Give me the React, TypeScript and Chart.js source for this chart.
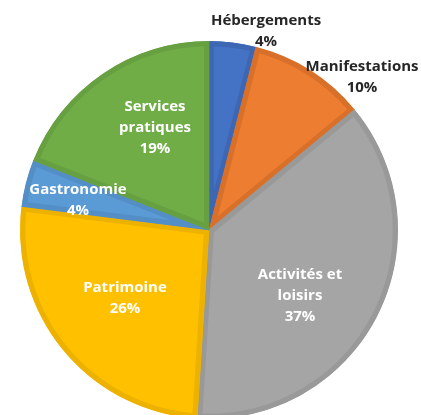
import React, { useEffect, useRef } from "react";
import { Chart, registerables } from "chart.js";

Chart.register(...registerables);

const categories = [
  ["Hébergements"],
  ["Manifestations"],
  ["Activités et", "loisirs"],
  ["Patrimoine"],
  ["Gastronomie"],
  ["Services", "pratiques"],
];
const values = [4, 10, 37, 26, 4, 19];
const fillColors = ["#4472C4", "#ED7D31", "#A5A5A5", "#FFC000", "#5B9BD5", "#70AD47"];
const borderColors = ["#3D67B3", "#D97029", "#999999", "#EDB200", "#538FC6", "#67A041"];
const labelInside = [false, false, true, true, true, true];
// label placement: fraction of radius, angle shift (deg) from slice middle
const labelRadius = [1.095, 1.145, 0.595, 0.572, 0.711, 0.611];
const labelShift = [8.8, 12.6, 9, 0.6, -1.5, 6.3];

const labelPlugin = {
  id: "sliceLabels",
  afterDatasetsDraw(chart: any) {
    const ctx = chart.ctx;
    const meta = chart.getDatasetMeta(0);
    const total = values.reduce((a, b) => a + b, 0);
    ctx.save();
    ctx.font = "bold 15px 'Open Sans'";
    ctx.textAlign = "center";
    ctx.textBaseline = "middle";
    meta.data.forEach((arc: any, i: number) => {
      const { x, y, startAngle, endAngle, outerRadius } = arc.getProps(
        ["x", "y", "startAngle", "endAngle", "outerRadius"],
        true
      );
      const mid = (startAngle + endAngle) / 2 + (labelShift[i] * Math.PI) / 180;
      const r = outerRadius * labelRadius[i];
      const cx = x + Math.cos(mid) * r;
      const cy = y + Math.sin(mid) * r;
      const lines = [...categories[i], Math.round((values[i] / total) * 100) + "%"];
      const lh = 21;
      const top = cy - ((lines.length - 1) * lh) / 2;
      ctx.fillStyle = labelInside[i] ? "#FFFFFF" : "#262626";
      lines.forEach((t, k) => ctx.fillText(t, cx, top + k * lh));
    });
    ctx.restore();
  },
};

export default function App() {
  const ref = useRef<HTMLCanvasElement | null>(null);
  useEffect(() => {
    const chart = new Chart(ref.current!, {
      type: "pie",
      data: {
        labels: categories.map((c) => c.join(" ")),
        datasets: [
          {
            data: values,
            backgroundColor: fillColors,
            borderColor: borderColors,
            borderWidth: 5,
            borderAlign: "inner",
            hoverOffset: 0,
            offset: 0,
          } as any,
        ],
      },
      options: {
        responsive: false,
        animation: false,
        radius: 189,
        layout: { padding: { left: 20, right: 23, top: 41, bottom: 20 } },
        plugins: { legend: { display: false }, tooltip: { enabled: false } },
      } as any,
      plugins: [labelPlugin],
    });
    return () => chart.destroy();
  }, []);
  return (
    <div style={{ position: "fixed", left: 0, top: 0, width: 421, height: 415, overflow: "hidden", background: "#fff" }}>
      <canvas ref={ref} width={421} height={439} style={{ display: "block" }} />
    </div>
  );
}
